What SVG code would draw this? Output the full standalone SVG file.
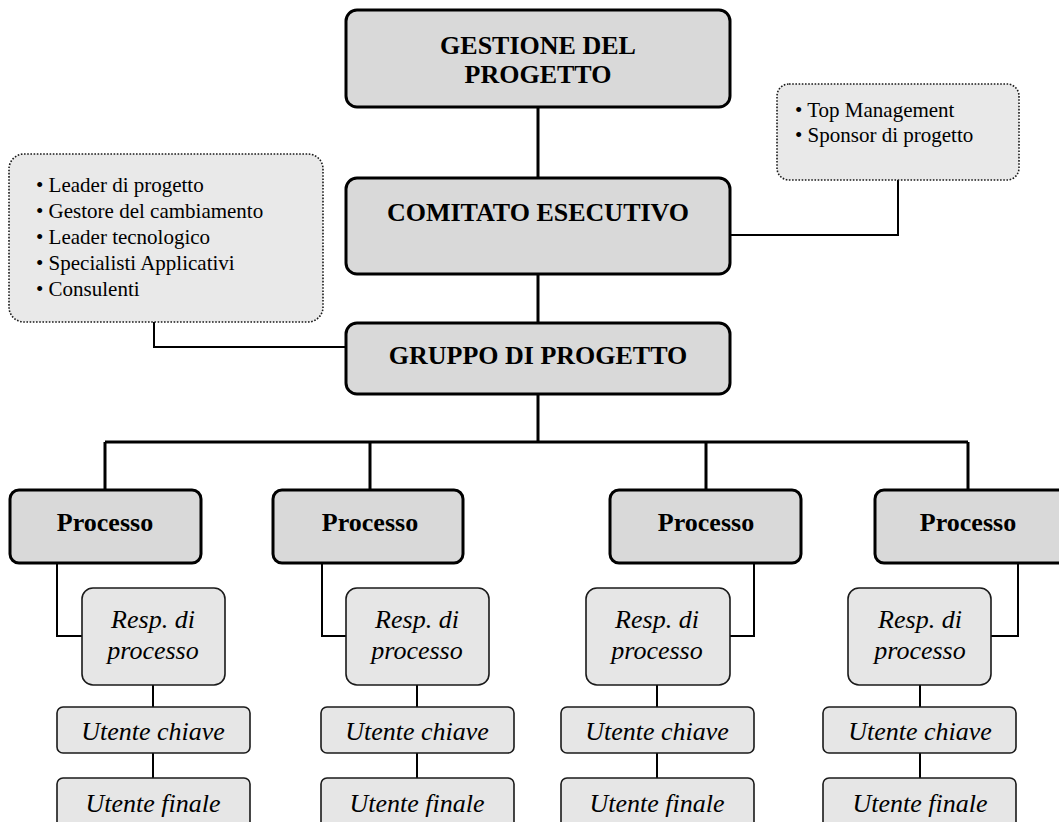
<svg xmlns="http://www.w3.org/2000/svg" width="1059" height="822" viewBox="0 0 1059 822">
  <style>
    .main { fill: #d9d9d9; stroke: #000; stroke-width: 3; }
    .sub { fill: #e6e6e6; stroke: #1a1a1a; stroke-width: 1.6; }
    .note { fill: #e9e9e9; stroke: #1a1a1a; stroke-width: 1.6; stroke-dasharray: 1.6 1.6; }
    .thick { fill: none; stroke: #000; stroke-width: 3; }
    .thin { fill: none; stroke: #000; stroke-width: 2; }
    text { font-family: "Liberation Serif", "Times New Roman", serif; fill: #000; }
    .head { font-size: 26px; font-weight: bold; text-anchor: middle; }
    .proc { font-size: 26px; font-weight: bold; text-anchor: middle; }
    .role { font-size: 26px; font-style: italic; text-anchor: middle; }
    .list { font-size: 21px; }
  </style>

  <!-- connectors -->
  <g id="connectors">
    <path class="thick" d="M538 107V178 M538 274V323 M538 394V442 M105 442H968 M105 442V490 M370 442V490 M706 442V490 M968 442V490"/>
    <path class="thin" d="M730 235H898V180"/>
    <path class="thin" d="M154 322V347H346"/>
    <path class="thin" d="M57 563V636H82 M322 563V636H346 M754 563V636H730 M1018 563V636H991"/>
    <path class="thin" d="M153 685V707 M153 753V778 M417 685V707 M417 753V778 M657 685V707 M657 753V778 M920 685V707 M920 753V778"/>
  </g>

  <g id="gestione">
    <rect class="main" x="346" y="10" width="384" height="97" rx="11"/>
    <text class="head" x="538" y="54">GESTIONE DEL</text>
    <text class="head" x="538" y="83">PROGETTO</text>
  </g>

  <g id="comitato">
    <rect class="main" x="346" y="178" width="384" height="96" rx="11"/>
    <text class="head" x="538" y="221">COMITATO ESECUTIVO</text>
  </g>

  <g id="gruppo">
    <rect class="main" x="346" y="323" width="384" height="71" rx="11"/>
    <text class="head" x="538" y="364">GRUPPO DI PROGETTO</text>
  </g>

  <g id="note-right">
    <rect class="note" x="777" y="84" width="242" height="96" rx="12"/>
    <text class="list" x="795" y="117">• Top Management</text>
    <text class="list" x="795" y="142">• Sponsor di progetto</text>
  </g>

  <g id="note-left">
    <rect class="note" x="9" y="154" width="314" height="168" rx="15"/>
    <text class="list" x="36" y="192">• Leader di progetto</text>
    <text class="list" x="36" y="218">• Gestore del cambiamento</text>
    <text class="list" x="36" y="244">• Leader tecnologico</text>
    <text class="list" x="36" y="270">• Specialisti Applicativi</text>
    <text class="list" x="36" y="296">• Consulenti</text>
  </g>

  <!-- process column 1 -->
  <g id="processo-1">
    <rect class="main" x="10" y="490" width="191" height="73" rx="9"/>
    <text class="proc" x="105" y="531">Processo</text>
  </g>
  <g id="resp-1">
    <rect class="sub" x="82" y="588" width="143" height="97" rx="11"/>
    <text class="role" x="153" y="628">Resp. di</text>
    <text class="role" x="153" y="659">processo</text>
  </g>
  <g id="chiave-1">
    <rect class="sub" x="57" y="707" width="193" height="46" rx="6"/>
    <text class="role" x="153" y="740">Utente chiave</text>
  </g>
  <g id="finale-1">
    <rect class="sub" x="57" y="778" width="193" height="50" rx="6"/>
    <text class="role" x="153" y="812">Utente finale</text>
  </g>

  <!-- process column 2 -->
  <g id="processo-2">
    <rect class="main" x="273" y="490" width="190" height="73" rx="9"/>
    <text class="proc" x="370" y="531">Processo</text>
  </g>
  <g id="resp-2">
    <rect class="sub" x="346" y="588" width="143" height="97" rx="11"/>
    <text class="role" x="417" y="628">Resp. di</text>
    <text class="role" x="417" y="659">processo</text>
  </g>
  <g id="chiave-2">
    <rect class="sub" x="321" y="707" width="193" height="46" rx="6"/>
    <text class="role" x="417" y="740">Utente chiave</text>
  </g>
  <g id="finale-2">
    <rect class="sub" x="321" y="778" width="193" height="50" rx="6"/>
    <text class="role" x="417" y="812">Utente finale</text>
  </g>

  <!-- process column 3 -->
  <g id="processo-3">
    <rect class="main" x="610" y="490" width="191" height="73" rx="9"/>
    <text class="proc" x="706" y="531">Processo</text>
  </g>
  <g id="resp-3">
    <rect class="sub" x="586" y="588" width="144" height="97" rx="11"/>
    <text class="role" x="657" y="628">Resp. di</text>
    <text class="role" x="657" y="659">processo</text>
  </g>
  <g id="chiave-3">
    <rect class="sub" x="561" y="707" width="193" height="46" rx="6"/>
    <text class="role" x="657" y="740">Utente chiave</text>
  </g>
  <g id="finale-3">
    <rect class="sub" x="561" y="778" width="193" height="50" rx="6"/>
    <text class="role" x="657" y="812">Utente finale</text>
  </g>

  <!-- process column 4 -->
  <g id="processo-4">
    <rect class="main" x="875" y="490" width="192" height="73" rx="9"/>
    <text class="proc" x="968" y="531">Processo</text>
  </g>
  <g id="resp-4">
    <rect class="sub" x="848" y="588" width="143" height="97" rx="11"/>
    <text class="role" x="920" y="628">Resp. di</text>
    <text class="role" x="920" y="659">processo</text>
  </g>
  <g id="chiave-4">
    <rect class="sub" x="823" y="707" width="193" height="46" rx="6"/>
    <text class="role" x="920" y="740">Utente chiave</text>
  </g>
  <g id="finale-4">
    <rect class="sub" x="823" y="778" width="193" height="50" rx="6"/>
    <text class="role" x="920" y="812">Utente finale</text>
  </g>
</svg>
